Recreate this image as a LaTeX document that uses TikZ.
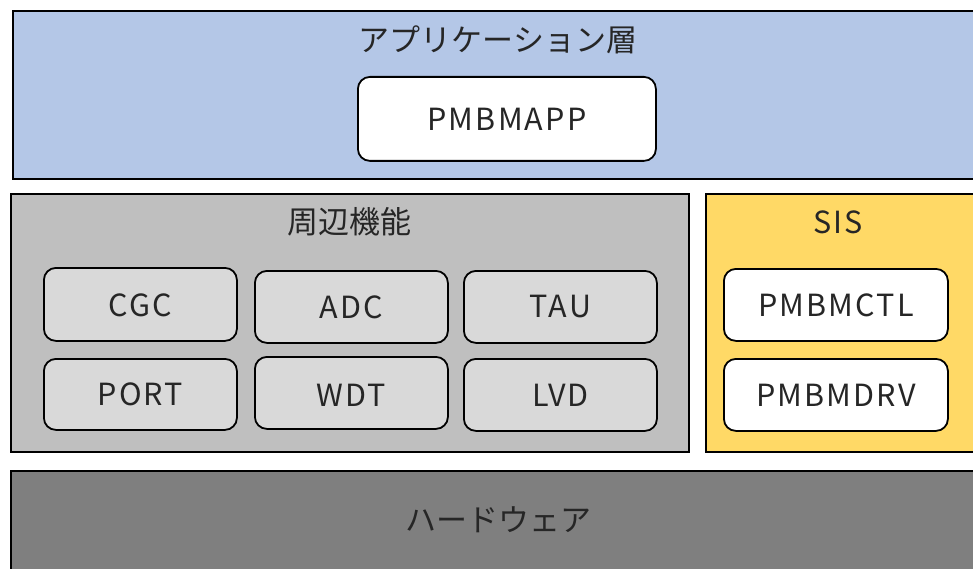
\documentclass[tikz,border=0pt]{standalone}
\usepackage{fontspec}
\setmainfont{Noto Sans CJK JP}
\newfontfamily\latinlbl[LetterSpace=7]{Noto Sans CJK JP}
\definecolor{appblue}{HTML}{B4C7E7}
\definecolor{perigray}{HTML}{BFBFBF}
\definecolor{innergray}{HTML}{D9D9D9}
\definecolor{sisyellow}{HTML}{FFD966}
\definecolor{hwgray}{HTML}{7F7F7F}
\definecolor{txt}{HTML}{262626}
\tikzset{
  layer/.style={draw=black, line width=2.4pt, anchor=north west, inner sep=0pt},
  mod/.style={draw=black, line width=1.8pt, rounded corners=12pt, anchor=north west, inner sep=0pt},
  ttl/.style={font=\fontsize{31}{35}\selectfont, text=txt, inner sep=0pt},
  lbl/.style={font=\latinlbl\fontsize{30.5}{35}\selectfont, text=txt, inner sep=0pt},
}
\begin{document}
\begin{tikzpicture}[x=1pt,y=-1pt]
\useasboundingbox (0,0) rectangle (973,569);
\clip (0,0) rectangle (973,569);
% layers
\node[layer, fill=appblue, minimum width=1000pt, minimum height=168pt] (app) at (12,10) {};
\node[layer, fill=perigray, minimum width=678pt, minimum height=258pt] (peri) at (10,193) {};
\node[layer, fill=sisyellow, minimum width=300pt, minimum height=258pt] (sis) at (705,193) {};
\node[layer, fill=hwgray, minimum width=1000pt, minimum height=140pt] (hw) at (10,470) {};
% titles
\node[ttl] (appt) at (498,40) {アプリケーション層};
\node[ttl] (perit) at (349,222) {周辺機能};
\node[lbl] (sist) at (838,222) {SIS};
\node[ttl] (hwt) at (498,520) {ハードウェア};
% modules
\node[mod, fill=white, minimum width=298pt, minimum height=84pt] (pmbmapp) at (357,76) {};
\node[lbl] at (pmbmapp.center) {PMBMAPP};
\node[mod, fill=innergray, minimum width=193pt, minimum height=73pt] (cgc) at (43,267) {};
\node[lbl] at ([yshift=-1pt]cgc.center) {CGC};
\node[mod, fill=innergray, minimum width=193pt, minimum height=72pt] (adc) at (254,270) {};
\node[lbl] at (adc.center) {ADC};
\node[mod, fill=innergray, minimum width=193pt, minimum height=72pt] (tau) at (463,270) {};
\node[lbl] at (tau.center) {TAU};
\node[mod, fill=innergray, minimum width=193pt, minimum height=71pt] (port) at (43,358) {};
\node[lbl] at (port.center) {PORT};
\node[mod, fill=innergray, minimum width=193pt, minimum height=72pt] (wdt) at (254,356) {};
\node[lbl] at ([yshift=-2pt]wdt.center) {WDT};
\node[mod, fill=innergray, minimum width=193pt, minimum height=72pt] (lvd) at (463,358) {};
\node[lbl] at (lvd.center) {LVD};
\node[mod, fill=white, minimum width=224pt, minimum height=72pt] (ctl) at (723,268) {};
\node[lbl] at (ctl.center) {PMBMCTL};
\node[mod, fill=white, minimum width=224pt, minimum height=72pt] (drv) at (723,358) {};
\node[lbl] at (drv.center) {PMBMDRV};
\end{tikzpicture}
\end{document}
